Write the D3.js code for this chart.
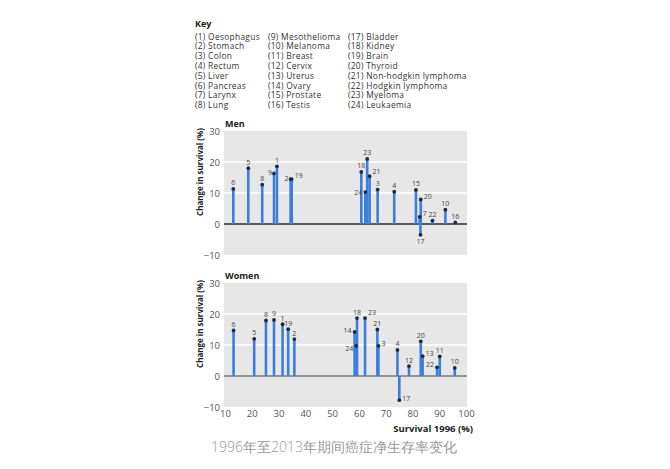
<!DOCTYPE html>
<html>
<head>
<meta charset="utf-8">
<script src="https://cdn.jsdelivr.net/npm/d3@7"></script>
<style>
  body { margin: 0; background: #fff; }
  svg text { font-family: "Open Sans", "Noto Sans", sans-serif; }
</style>
</head>
<body>
<div id="app"></div>
<script>
const width = 670;
const height = 469;

// key of the cancers, numbered 1..24
const cancers = [
  "Oesophagus", "Stomach", "Colon", "Rectum", "Liver", "Pancreas", "Larynx", "Lung",
  "Mesothelioma", "Melanoma", "Breast", "Cervix", "Uterus", "Ovary", "Prostate", "Testis",
  "Bladder", "Kidney", "Brain", "Thyroid", "Non-hodgkin lymphoma", "Hodgkin lymphoma", "Myeloma", "Leukaemia"
];

// men: cancer number, survival 1996 (%), change in survival (%)
const menIds = [6, 5, 8, 9, 1, 2, 19, 18, 24, 23, 21, 3, 4, 15, 7, 20, 17, 22, 10, 16];
const menSurvival = [13.1, 18.7, 23.9, 28.3, 29.4, 34.5, 34.9, 60.9, 62.4, 63.1, 64.0, 67.0, 73.2, 81.3, 82.7, 83.1, 83.0, 87.5, 92.3, 96.0];
const menChange = [11.3, 18.0, 12.7, 16.3, 18.6, 14.5, 14.5, 16.8, 10.3, 21.0, 15.4, 11.1, 10.4, 11.0, 2.3, 7.9, -3.5, 1.1, 4.6, 0.5];

// women
const womenIds = [6, 5, 8, 9, 1, 19, 2, 14, 24, 18, 23, 21, 3, 4, 17, 12, 20, 13, 22, 11, 10];
const womenSurvival = [13.2, 20.9, 25.3, 28.3, 31.5, 33.6, 35.9, 58.4, 59.0, 59.3, 62.3, 66.9, 67.3, 74.4, 75.1, 78.7, 83.1, 83.8, 89.2, 90.2, 95.8];
const womenChange = [14.7, 12.0, 17.9, 18.1, 16.7, 15.1, 11.9, 14.2, 9.7, 18.7, 18.7, 15.0, 9.7, 8.4, -7.8, 3.2, 11.2, 6.4, 2.8, 6.3, 2.6];

const xTicks = [10, 20, 30, 40, 50, 60, 70, 80, 90, 100];
const yTicks = [-10, 0, 10, 20, 30];

// label placement (style only): [dx, dy, anchor]
const menLabelPos = {
  9: [-2, 2, "end"], 2: [-2, 2, "end"], 19: [3, -1, "start"], 24: [-3, 3, "end"],
  21: [3, -2, "start"], 20: [3, -1, "start"], 7: [3, -1, "start"], 17: [0, 9, "middle"]
};
const womenLabelPos = {
  14: [-3, 1, "end"], 24: [-3, 5, "end"], 23: [3, -3, "start"], 3: [3, 0, "start"],
  17: [3, 1, "start"], 13: [3, 0, "start"], 22: [-3, 0, "end"]
};

const svg = d3.select("#app").append("svg")
  .attr("width", width)
  .attr("height", height);

// key
svg.append("text").attr("x", 195).attr("y", 27)
  .attr("font-size", 9).attr("font-weight", "bold").attr("fill", "#222")
  .attr("font-family", "DejaVu Sans, sans-serif").text("Key");

const keyCols = [195, 268, 348];
cancers.forEach((name, i) => {
  svg.append("text")
    .attr("x", keyCols[Math.floor(i / 8)])
    .attr("y", 39.5 + (i % 8) * 9.8)
    .attr("font-size", 8.4)
    .attr("letter-spacing", 0.3)
    .attr("font-family", "DejaVu Sans, sans-serif")
    .attr("fill", "#333")
    .text(`(${i + 1}) ${name}`);
});

const x = d3.scaleLinear().domain([10, 100]).range([225, 466]);

function panel(title, top, ids, surv, change, labelPos, showX, zeroColor) {
  const y = d3.scaleLinear().domain([-10, 30]).range([top + 124, top]);
  const g = svg.append("g");

  g.append("rect")
    .attr("x", x(10) - 1).attr("y", y(30))
    .attr("width", x(100) - x(10) + 2).attr("height", y(-10) - y(30))
    .attr("fill", "#e7e7e7");

  g.selectAll(".grid").data([10, 20]).join("line")
    .attr("x1", x(10) - 1).attr("x2", x(100) + 1)
    .attr("y1", d => y(d)).attr("y2", d => y(d))
    .attr("stroke", "#fff").attr("stroke-width", 1.5);

  const yAxis = g.append("g")
    .attr("transform", `translate(${x(10) - 1},0)`)
    .call(d3.axisLeft(y).tickValues(yTicks).tickSize(0).tickPadding(4));
  yAxis.select(".domain").remove();
  yAxis.selectAll("text").attr("font-size", 9.5).attr("fill", "#555")
    .attr("font-family", "Open Sans, sans-serif");

  g.append("line")
    .attr("x1", x(10) - 1).attr("x2", x(100) + 1)
    .attr("y1", y(0)).attr("y2", y(0))
    .attr("stroke", zeroColor).attr("stroke-width", 1.6);

  const pts = ids.map((id, i) => ({ id, s: surv[i], c: change[i] }));

  g.selectAll(".stem").data(pts).join("line")
    .attr("x1", d => x(d.s)).attr("x2", d => x(d.s))
    .attr("y1", y(0)).attr("y2", d => y(d.c))
    .attr("stroke", "#3c7ede").attr("stroke-width", 2.6);

  g.selectAll(".dot").data(pts).join("circle")
    .attr("cx", d => x(d.s)).attr("cy", d => y(d.c))
    .attr("r", 1.9).attr("fill", "#1c2b45");

  g.selectAll(".lab").data(pts).join("text")
    .attr("x", d => x(d.s) + (labelPos[d.id] ? labelPos[d.id][0] : 0))
    .attr("y", d => y(d.c) + (labelPos[d.id] ? labelPos[d.id][1] : -3.5))
    .attr("text-anchor", d => labelPos[d.id] ? labelPos[d.id][2] : "middle")
    .attr("font-size", 7).attr("fill", "#444")
    .text(d => d.id);

  g.append("text")
    .attr("x", x(10)).attr("y", top - 4.5)
    .attr("font-size", 9).attr("font-weight", "bold").attr("fill", "#222")
    .text(title);

  g.append("text")
    .attr("transform", `translate(203,${top - 3}) rotate(-90)`)
    .attr("text-anchor", "end")
    .attr("font-size", 8).attr("font-weight", "bold").attr("fill", "#222")
    .text("Change in survival (%)");

  if (showX) {
    const xAxis = g.append("g")
      .attr("transform", `translate(0,${y(-10)})`)
      .call(d3.axisBottom(x).tickValues(xTicks).tickSize(0).tickPadding(3));
    xAxis.select(".domain").remove();
    xAxis.selectAll("text").attr("font-size", 9.5).attr("fill", "#555")
      .attr("font-family", "Open Sans, sans-serif");
  }
}

panel("Men", 131, menIds, menSurvival, menChange, menLabelPos, false, "#2a2a2a");
panel("Women", 283, womenIds, womenSurvival, womenChange, womenLabelPos, true, "#7a7a7a");

svg.append("text")
  .attr("x", 473).attr("y", 432)
  .attr("text-anchor", "end")
  .attr("font-size", 9.5).attr("font-weight", "bold").attr("fill", "#222")
  .text("Survival 1996 (%)");

svg.append("text")
  .attr("x", 334).attr("y", 452)
  .attr("text-anchor", "middle")
  .attr("font-size", 14)
  .attr("font-family", "Noto Sans CJK SC, sans-serif")
  .attr("font-weight", 300)
  .attr("fill", "#999")
  .text("1996年至2013年期间癌症净生存率变化");
</script>
</body>
</html>
